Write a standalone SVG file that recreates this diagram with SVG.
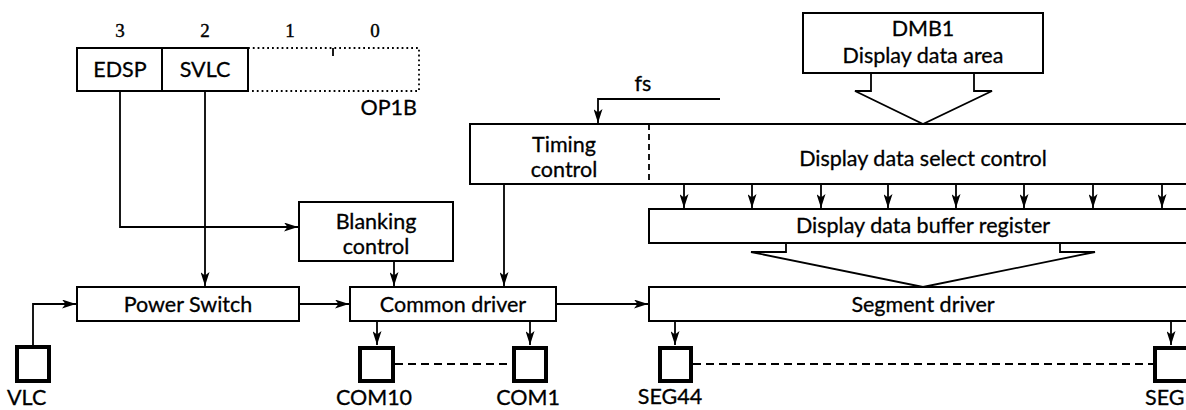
<svg xmlns="http://www.w3.org/2000/svg" width="1186" height="410" viewBox="0 0 1186 410">
<style>
.box{fill:#fff;stroke:#000;stroke-width:2}
.ln{fill:none;stroke:#000;stroke-width:1.8}
.arr{fill:none;stroke:#000;stroke-width:1.8;marker-end:url(#ah)}
.pad{fill:#fff;stroke:#000;stroke-width:4}
.dash{fill:none;stroke:#000;stroke-width:1.8;stroke-dasharray:8 5}
.t{font-family:Lato,"Open Sans","Liberation Sans",sans-serif;font-size:21.5px;fill:#000;text-anchor:middle;stroke:#000;stroke-width:0.3}
.num{font-family:"Liberation Serif",serif;font-size:19px;fill:#000;text-anchor:middle;stroke:#000;stroke-width:0.4}
</style>
<defs>
<marker id="ah" viewBox="0 0 14 9" refX="14" refY="4.5" markerWidth="14" markerHeight="9" markerUnits="userSpaceOnUse" orient="auto">
<path d="M0,0 L14,4.5 L0,9 L3.5,4.5 z" fill="#000"/>
</marker>
</defs>
<g id="connectors">
<polyline class="arr" points="120,91 120,227 298,227"/>
<polyline class="arr" points="205,91 205,286"/>
<polyline class="arr" points="33,345 33,304 76,304"/>
<polyline class="arr" points="299,304 349,304"/>
<polyline class="arr" points="394,261 394,286"/>
<polyline class="arr" points="556,304 648,304"/>
<polyline class="arr" points="720,99 598,99 598,123"/>
<polyline class="arr" points="504,184 504,286"/>
<polyline class="arr" points="684,184 684,208"/>
<polyline class="arr" points="752,184 752,208"/>
<polyline class="arr" points="821,184 821,208"/>
<polyline class="arr" points="888,184 888,208"/>
<polyline class="arr" points="956,184 956,208"/>
<polyline class="arr" points="1024,184 1024,208"/>
<polyline class="arr" points="1093,184 1093,208"/>
<polyline class="arr" points="1162,184 1162,208"/>
<polyline class="ln" points="871,73 871,91 855,91 923,124 992,91 974,91 974,73"/>
<polyline class="ln" points="786,243 786,252 751,252 923,287 1095,252 1060,252 1060,243"/>
<polyline class="arr" points="377,321 377,345"/>
<polyline class="arr" points="530,321 530,345"/>
<polyline class="arr" points="675,321 675,345"/>
<polyline class="arr" points="1171,321 1171,345"/>
<line class="dash" x1="395" y1="364" x2="512" y2="364"/>
<line class="dash" x1="693" y1="364" x2="1153" y2="364"/>
</g>
<g id="op1b">
<text class="num" x="120" y="37">3</text>
<text class="num" x="205" y="37">2</text>
<text class="num" x="290" y="37">1</text>
<text class="num" x="375" y="37">0</text>
<rect class="box" x="77" y="48" width="85" height="43"/>
<rect class="box" x="162" y="48" width="86" height="43"/>
<polyline points="248,48 419,48 419,91 248,91" fill="none" stroke="#000" stroke-width="1.8" stroke-dasharray="1.8 3"/>
<line x1="333" y1="48" x2="333" y2="56" stroke="#000" stroke-width="1.8"/>
<text class="t" x="120" y="77">EDSP</text>
<text class="t" x="205" y="77">SVLC</text>
<text class="t" x="417" y="115" style="text-anchor:end">OP1B</text>
</g>
<g id="blanking">
<rect class="box" x="299" y="202" width="154" height="59"/>
<text class="t" x="376" y="229">Blanking</text>
<text class="t" x="376" y="254">control</text>
</g>
<g id="power-switch">
<rect class="box" x="77" y="287" width="222" height="34"/>
<text class="t" x="188" y="312">Power Switch</text>
</g>
<g id="common-driver">
<rect class="box" x="350" y="287" width="206" height="34"/>
<text class="t" x="453" y="312">Common driver</text>
</g>
<g id="dmb1">
<rect class="box" x="803" y="13" width="240" height="60"/>
<text class="t" x="923" y="36">DMB1</text>
<text class="t" x="923" y="63">Display data area</text>
</g>
<g id="fs-label">
<text class="t" x="643" y="91">fs</text>
</g>
<g id="timing-select">
<rect class="box" x="470" y="124" width="730" height="60"/>
<line x1="649" y1="124" x2="649" y2="184" stroke="#000" stroke-width="1.8" stroke-dasharray="6 4"/>
<text class="t" x="564" y="152">Timing</text>
<text class="t" x="564" y="177">control</text>
<text class="t" x="923" y="166">Display data select control</text>
</g>
<g id="buffer">
<rect class="box" x="649" y="209" width="551" height="34"/>
<text class="t" x="923" y="233">Display data buffer register</text>
</g>
<g id="segment-driver">
<rect class="box" x="649" y="287" width="551" height="34"/>
<text class="t" x="923" y="312">Segment driver</text>
</g>
<g id="pad-vlc">
<rect class="pad" x="17" y="347" width="32" height="34"/>
<text class="t" x="7" y="405" style="text-anchor:start">VLC</text>
</g>
<g id="pad-com10">
<rect class="pad" x="360" y="348" width="33" height="33"/>
<text class="t" x="374" y="405">COM10</text>
</g>
<g id="pad-com1">
<rect class="pad" x="514" y="348" width="32" height="33"/>
<text class="t" x="528" y="405">COM1</text>
</g>
<g id="pad-seg44">
<rect class="pad" x="660" y="348" width="31" height="33"/>
<text class="t" x="670" y="404">SEG44</text>
</g>
<g id="pad-seg1">
<rect class="pad" x="1155" y="348" width="40" height="33"/>
<text class="t" x="1145" y="405" style="text-anchor:start">SEG1</text>
</g>
</svg>
